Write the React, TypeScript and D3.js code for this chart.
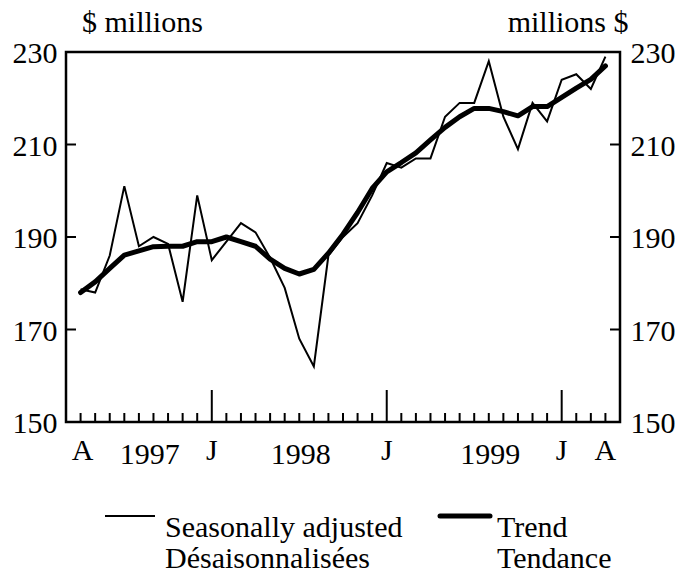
import React from "react";
import * as d3 from "d3";

const seasonallyAdjusted = [
  178.7, 178, 186, 201, 188, 190, 188.5, 176, 199, 185, 189, 193, 191, 185.5,
  179, 168, 162, 186, 190, 193, 199, 206, 205, 207, 207, 216, 219, 219, 228,
  216, 209, 219, 215, 224, 225.2, 222, 229,
];
const trend = [
  178, 180.3, 183.2, 186.1, 187, 187.9, 188, 188, 189, 189, 190, 189, 188,
  185.2, 183.2, 182, 183, 186.5, 190.6, 195.3, 200.5, 204.1, 206.1, 208.2, 211,
  213.7, 216, 217.8, 217.8, 217.1, 216.2, 218.2, 218.2, 220.2, 222.2, 224.1, 227,
];
const yTicks = [150, 170, 190, 210, 230];
const monthLabels = [
  { i: 0, t: "A" },
  { i: 9, t: "J" },
  { i: 21, t: "J" },
  { i: 33, t: "J" },
  { i: 36, t: "A" },
];
const yearLabels = [
  { i: 4.75, t: "1997" },
  { i: 15.1, t: "1998" },
  { i: 28.1, t: "1999" },
];
const majorTicks = [9, 21, 33];

const FONT = "'Liberation Serif', 'Times New Roman', Times, serif";

export default function App() {
  const W = 678,
    H = 576;
  const left = 66,
    right = 620,
    top = 52,
    bottom = 422;
  const n = trend.length;
  const x = d3.scaleLinear().domain([-1, n]).range([left, right]);
  const y = d3.scaleLinear().domain([150, 230]).range([bottom, top]);
  const line = d3
    .line<number>()
    .x((_, i) => x(i))
    .y((d) => y(d));
  const idx = d3.range(n);

  return (
    <svg
      width={W}
      height={H}
      style={{ position: "absolute", left: 0, top: 0, background: "#fff" }}
      fontFamily={FONT}
      fontSize={30}
    >
      <rect x={0} y={0} width={W} height={H} fill="#fff" />
      {/* ticks */}
      {idx.map((i) => (
        <line
          key={"xt" + i}
          x1={x(i)}
          x2={x(i)}
          y1={bottom}
          y2={majorTicks.includes(i) ? bottom - 32 : bottom - 9}
          stroke="#000"
          strokeWidth={2}
        />
      ))}
      {yTicks.map((v) => (
        <g key={"yt" + v}>
          <line x1={left} x2={left + 10} y1={y(v)} y2={y(v)} stroke="#000" strokeWidth={2} />
          <line x1={right} x2={right - 10} y1={y(v)} y2={y(v)} stroke="#000" strokeWidth={2} />
          <text x={57.5} y={y(v) + 11} textAnchor="end">
            {v}
          </text>
          <text x={630.5} y={y(v) + 11} textAnchor="start">
            {v}
          </text>
        </g>
      ))}
      {/* series */}
      <path
        d={line(seasonallyAdjusted) || ""}
        fill="none"
        stroke="#000"
        strokeWidth={2}
        strokeLinejoin="miter"
      />
      <path
        d={line(trend) || ""}
        fill="none"
        stroke="#000"
        strokeWidth={5}
        strokeLinejoin="round"
        strokeLinecap="round"
      />
      {/* frame */}
      <rect
        x={left}
        y={top}
        width={right - left}
        height={bottom - top}
        fill="none"
        stroke="#000"
        strokeWidth={2.5}
      />
      {/* x labels */}
      {monthLabels.map((m, k) => (
        <text key={"ml" + k} x={x(m.i) + (k === 0 ? 2 : 0)} y={460} textAnchor="middle">
          {m.t}
        </text>
      ))}
      {yearLabels.map((m) => (
        <text key={"yl" + m.t} x={x(m.i)} y={463.5} textAnchor="middle">
          {m.t}
        </text>
      ))}
      {/* unit labels */}
      <text x={82} y={32} textAnchor="start">
        $ millions
      </text>
      <text x={628.5} y={32} textAnchor="end">
        millions $
      </text>
      {/* legend */}
      <line x1={105} x2={155} y1={516} y2={516} stroke="#000" strokeWidth={2} />
      <text x={165} y={537}>Seasonally adjusted</text>
      <text x={165} y={568}>Désaisonnalisées</text>
      <line
        x1={440}
        x2={490}
        y1={516}
        y2={516}
        stroke="#000"
        strokeWidth={5}
        strokeLinecap="round"
      />
      <text x={497} y={537}>Trend</text>
      <text x={497} y={568}>Tendance</text>
    </svg>
  );
}
